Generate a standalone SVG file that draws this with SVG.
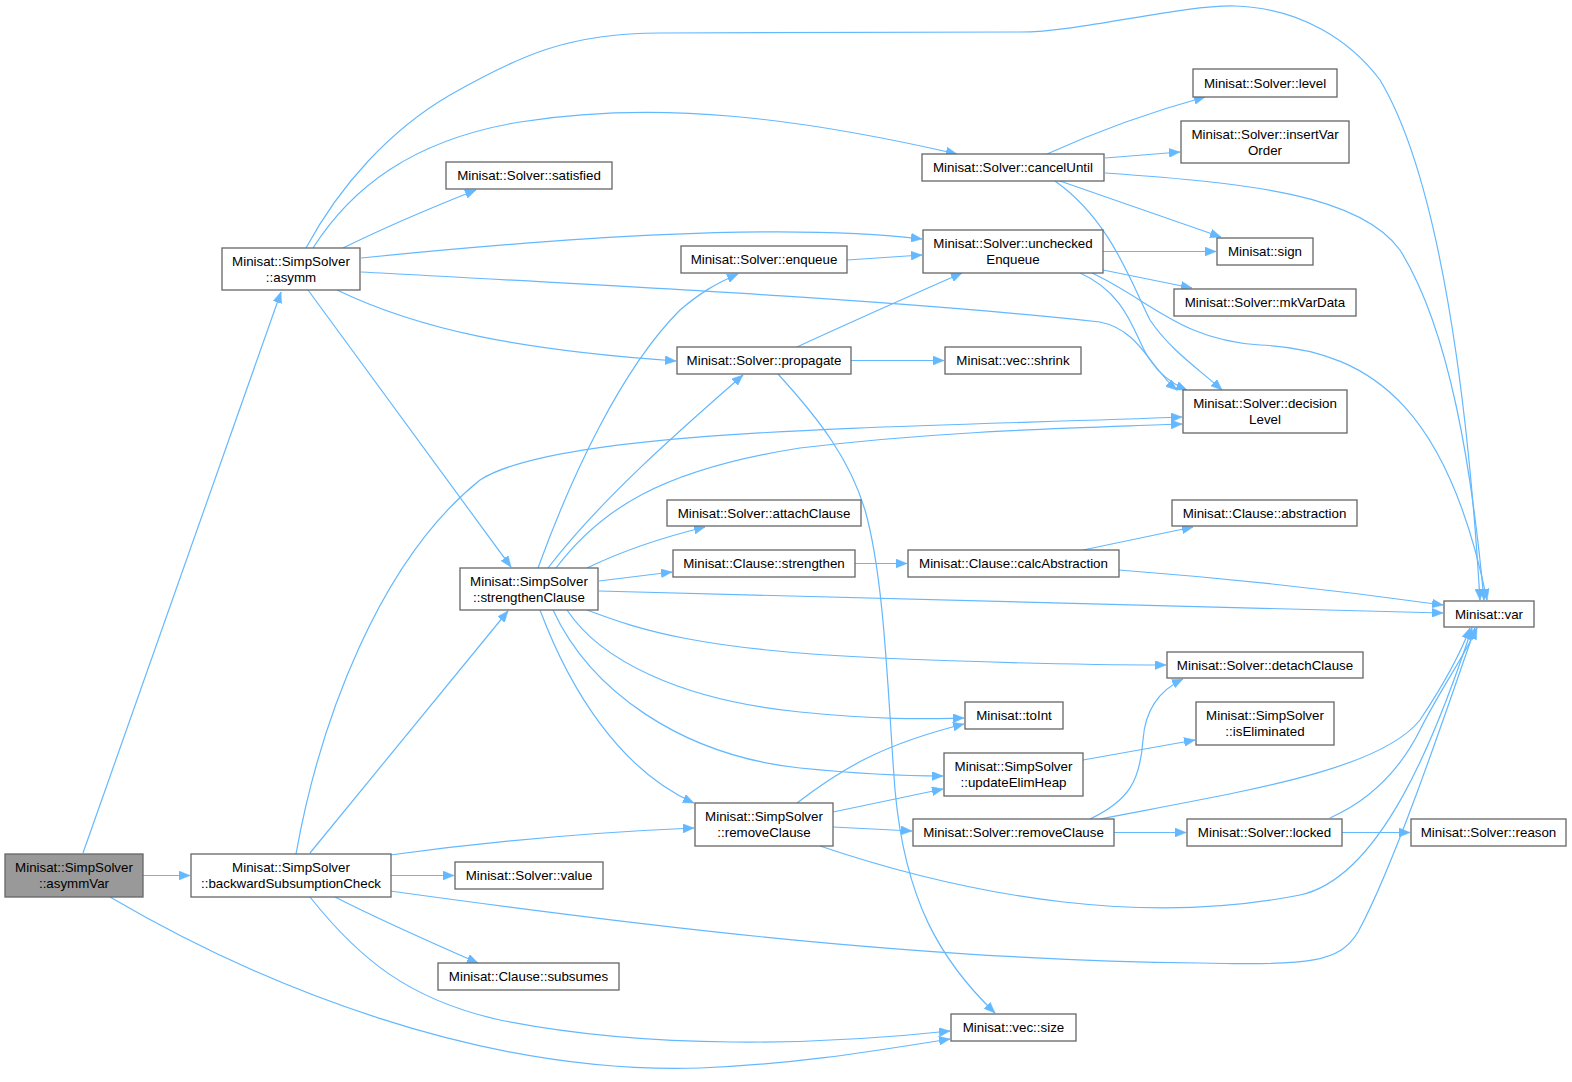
<svg xmlns="http://www.w3.org/2000/svg" width="1572" height="1082" viewBox="0 0 1572 1082">
<style>
.n rect{fill:#fff;stroke:#666;stroke-width:1.3}
.n text{font-family:"Liberation Sans",Arial,sans-serif;font-size:13.33px;text-anchor:middle;fill:#000}
#edges path{fill:none;stroke:#63b8ff;stroke-width:1.2;marker-end:url(#arr)}
</style>
<defs>
<marker id="arr" markerUnits="userSpaceOnUse" markerWidth="12" markerHeight="9" refX="11" refY="4.5" orient="auto">
<path d="M0,0 L11,4.5 L0,9 z" fill="#63b8ff" stroke="#63b8ff" stroke-width="0.5"/>
</marker>
</defs>
<rect width="1572" height="1082" fill="#fff"/>
<g id="edges">
<path d="M83,853 L281,292"/>
<path d="M143,875.5 L190,875.5"/>
<path d="M110,897 C260,985 480,1075 700,1068 C800,1064 880,1050 950,1039"/>
<path d="M306,248 C340,185 390,130 450,95 C520,55 570,33 660,33 L1020,32 C1080,32 1180,5 1235,6 C1300,8 1350,40 1380,80 C1440,180 1468,400 1480,600"/>
<path d="M313,248 C350,190 410,140 520,122 C660,100 800,118 957,154"/>
<path d="M343,248 Q400,220 476,190"/>
<path d="M361,258 C560,238 780,222 922,239"/>
<path d="M361,272 C600,285 900,300 1100,322 C1140,330 1150,368 1177,390"/>
<path d="M337,290 C420,330 520,350 676,361"/>
<path d="M308,290 L511,567"/>
<path d="M296,854 C320,720 380,560 480,480 C560,428 900,428 1182,417"/>
<path d="M310,853 L508,611"/>
<path d="M390,855 C500,840 600,832 694,828"/>
<path d="M390,875.5 L454,875.5"/>
<path d="M390,891 C600,920 900,960 1200,963 C1310,966 1340,962 1358,932 C1392,870 1440,730 1475,628"/>
<path d="M335,897 C380,920 430,942 478,963"/>
<path d="M310,897 C360,960 410,1000 500,1020 C650,1050 820,1045 950,1031"/>
<path d="M538,568 C570,480 620,370 680,310 C700,293 715,284 738,274"/>
<path d="M548,568 C600,500 680,430 743,375"/>
<path d="M556,568 C600,510 660,470 800,448 C950,430 1080,428 1182,424"/>
<path d="M587,568 C620,552 660,538 705,527"/>
<path d="M599,581 L672,572"/>
<path d="M599,591 C900,598 1200,606 1443,613"/>
<path d="M587,610 C640,630 700,650 880,658 C1000,663 1100,665 1166,665"/>
<path d="M567,610 C600,660 680,700 800,712 C880,720 920,719 964,718"/>
<path d="M553,610 C590,690 680,755 800,768 C860,774 900,776 943,776"/>
<path d="M540,610 C570,690 620,770 694,803"/>
<path d="M797,347 C860,318 910,296 962,273"/>
<path d="M851,360.5 L944,360.5"/>
<path d="M778,374 C820,420 850,460 865,510 C885,580 888,700 895,790 C905,900 940,960 995,1013"/>
<path d="M847,260 L922,255"/>
<path d="M1047,154 C1100,130 1150,112 1205,97"/>
<path d="M1105,158 L1180,152"/>
<path d="M1105,173 C1250,183 1360,195 1400,250 C1450,330 1472,470 1484,600"/>
<path d="M1060,181 L1221,237"/>
<path d="M1055,181 C1110,220 1130,280 1150,320 C1170,350 1200,370 1222,390"/>
<path d="M1103,251.5 L1216,251.5"/>
<path d="M1103,270 L1192,288"/>
<path d="M1080,273 C1130,295 1135,340 1150,360 C1160,375 1175,385 1187,390"/>
<path d="M1092,273 C1150,300 1180,340 1260,345 C1380,350 1450,420 1487,600"/>
<path d="M855,563.5 L907,563.5"/>
<path d="M1083,550 L1193,527"/>
<path d="M1119,570 C1250,580 1350,592 1443,605"/>
<path d="M797,803 C840,770 880,745 964,724"/>
<path d="M833,812 L943,789"/>
<path d="M833,827 L912,831"/>
<path d="M820,846 C980,900 1150,925 1300,895 C1380,878 1435,740 1472,628"/>
<path d="M1083,760 L1195,740"/>
<path d="M1090,819 C1130,800 1140,780 1143,740 C1145,710 1160,690 1183,679"/>
<path d="M1100,819 C1250,790 1380,770 1420,720 C1440,690 1458,660 1470,628"/>
<path d="M1114,832.5 L1186,832.5"/>
<path d="M1342,832.5 L1410,832.5"/>
<path d="M1330,818 C1370,800 1400,770 1420,730 C1440,690 1462,660 1477,628"/>
</g>
<g id="asymmVar" class="n"><rect x="5" y="854" width="138" height="43" style="fill:#999"/><text x="74" y="872">Minisat::SimpSolver</text><text x="74" y="888">::asymmVar</text></g>
<g id="backwardSubsumptionCheck" class="n"><rect x="191" y="854" width="200" height="43"/><text x="291" y="872">Minisat::SimpSolver</text><text x="291" y="888">::backwardSubsumptionCheck</text></g>
<g id="asymm" class="n"><rect x="222" y="248" width="138" height="42"/><text x="291" y="266">Minisat::SimpSolver</text><text x="291" y="282">::asymm</text></g>
<g id="strengthenClause" class="n"><rect x="460" y="568" width="138" height="42"/><text x="529" y="586">Minisat::SimpSolver</text><text x="529" y="602">::strengthenClause</text></g>
<g id="satisfied" class="n"><rect x="446" y="162" width="166" height="27"/><text x="529" y="180">Minisat::Solver::satisfied</text></g>
<g id="enqueue" class="n"><rect x="681" y="246" width="166" height="27"/><text x="764" y="264">Minisat::Solver::enqueue</text></g>
<g id="propagate" class="n"><rect x="677" y="347" width="174" height="27"/><text x="764" y="365">Minisat::Solver::propagate</text></g>
<g id="attachClause" class="n"><rect x="667" y="500" width="194" height="26"/><text x="764" y="518">Minisat::Solver::attachClause</text></g>
<g id="clauseStrengthen" class="n"><rect x="673" y="550" width="182" height="27"/><text x="764" y="568">Minisat::Clause::strengthen</text></g>
<g id="value" class="n"><rect x="455" y="862" width="148" height="27"/><text x="529" y="880">Minisat::Solver::value</text></g>
<g id="subsumes" class="n"><rect x="438" y="963" width="181" height="27"/><text x="528.5" y="981">Minisat::Clause::subsumes</text></g>
<g id="vecSize" class="n"><rect x="951" y="1014" width="125" height="27"/><text x="1013.5" y="1032">Minisat::vec::size</text></g>
<g id="cancelUntil" class="n"><rect x="922" y="154" width="182" height="27"/><text x="1013" y="172">Minisat::Solver::cancelUntil</text></g>
<g id="level" class="n"><rect x="1193" y="69" width="144" height="28"/><text x="1265" y="88">Minisat::Solver::level</text></g>
<g id="insertVarOrder" class="n"><rect x="1181" y="121" width="168" height="42"/><text x="1265" y="139">Minisat::Solver::insertVar</text><text x="1265" y="155">Order</text></g>
<g id="uncheckedEnqueue" class="n"><rect x="923" y="230" width="180" height="43"/><text x="1013" y="248">Minisat::Solver::unchecked</text><text x="1013" y="264">Enqueue</text></g>
<g id="sign" class="n"><rect x="1217" y="238" width="96" height="27"/><text x="1265" y="256">Minisat::sign</text></g>
<g id="mkVarData" class="n"><rect x="1174" y="289" width="182" height="27"/><text x="1265" y="307">Minisat::Solver::mkVarData</text></g>
<g id="shrink" class="n"><rect x="945" y="347" width="136" height="27"/><text x="1013" y="365">Minisat::vec::shrink</text></g>
<g id="decisionLevel" class="n"><rect x="1183" y="390" width="164" height="43"/><text x="1265" y="408">Minisat::Solver::decision</text><text x="1265" y="424">Level</text></g>
<g id="calcAbstraction" class="n"><rect x="908" y="550" width="211" height="27"/><text x="1013.5" y="568">Minisat::Clause::calcAbstraction</text></g>
<g id="abstraction" class="n"><rect x="1172" y="500" width="185" height="26"/><text x="1264.5" y="518">Minisat::Clause::abstraction</text></g>
<g id="var" class="n"><rect x="1444" y="601" width="90" height="26"/><text x="1489" y="619">Minisat::var</text></g>
<g id="detachClause" class="n"><rect x="1167" y="652" width="196" height="26"/><text x="1265" y="670">Minisat::Solver::detachClause</text></g>
<g id="toInt" class="n"><rect x="965" y="702" width="98" height="27"/><text x="1014" y="720">Minisat::toInt</text></g>
<g id="isEliminated" class="n"><rect x="1196" y="702" width="138" height="43"/><text x="1265" y="720">Minisat::SimpSolver</text><text x="1265" y="736">::isEliminated</text></g>
<g id="updateElimHeap" class="n"><rect x="944" y="753" width="139" height="43"/><text x="1013.5" y="771">Minisat::SimpSolver</text><text x="1013.5" y="787">::updateElimHeap</text></g>
<g id="simpRemoveClause" class="n"><rect x="695" y="803" width="138" height="43"/><text x="764" y="821">Minisat::SimpSolver</text><text x="764" y="837">::removeClause</text></g>
<g id="solverRemoveClause" class="n"><rect x="913" y="819" width="201" height="27"/><text x="1013.5" y="837">Minisat::Solver::removeClause</text></g>
<g id="locked" class="n"><rect x="1187" y="819" width="155" height="27"/><text x="1264.5" y="837">Minisat::Solver::locked</text></g>
<g id="reason" class="n"><rect x="1411" y="819" width="155" height="27"/><text x="1488.5" y="837">Minisat::Solver::reason</text></g>
</svg>
